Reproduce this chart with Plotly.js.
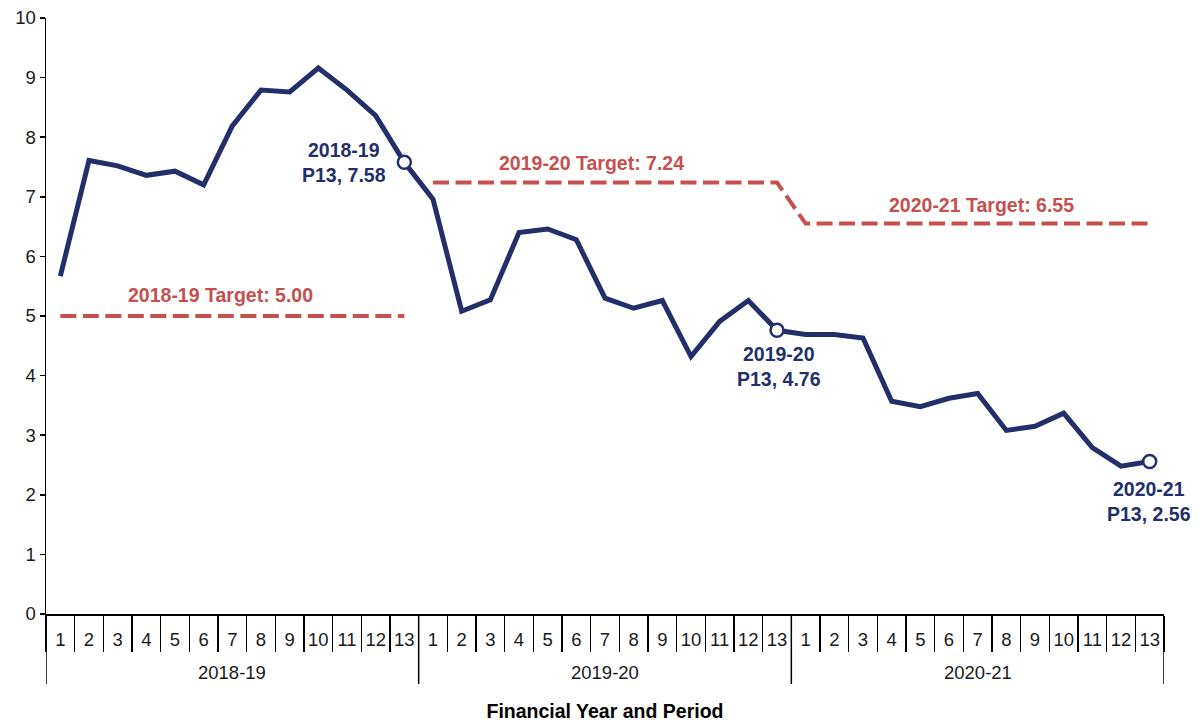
<!DOCTYPE html>
<html>
<head>
<meta charset="utf-8">
<script src="https://cdn.plot.ly/plotly-3.0.1.min.js"></script>
<style>html,body{margin:0;padding:0;background:#fff}#chart{width:1200px;height:724px}</style>
</head>
<body>
<div id="chart"></div>
<script>
// ---- data ----
const years = ['2018-19', '2019-20', '2020-21'];
const periods = ['1','2','3','4','5','6','7','8','9','10','11','12','13'];
const fy1819 = [5.67, 7.61, 7.52, 7.36, 7.43, 7.20, 8.19, 8.79, 8.76, 9.16, 8.79, 8.36, 7.58];
const fy1920 = [6.96, 5.08, 5.27, 6.40, 6.46, 6.28, 5.30, 5.13, 5.26, 4.32, 4.91, 5.26, 4.76];
const fy2021 = [4.69, 4.69, 4.63, 3.57, 3.48, 3.62, 3.70, 3.08, 3.15, 3.37, 2.79, 2.48, 2.56];
const targets = [5.00, 7.24, 6.55];
const yTicks = [0,1,2,3,4,5,6,7,8,9,10];
const xTitle = 'Financial Year and Period';

const NAVY = '#232f6b';
const RED = '#c5504e';
const FONT = 'Liberation Sans, Arial, sans-serif';

// unique category per (year, period); the axis shows only the period number
const series = [fy1819, fy1920, fy2021];
const cat = (yr, p) => yr + ' P' + p;
const xAll = [], yAll = [], tickText = [];
years.forEach((yr, i) => periods.forEach((p, j) => { xAll.push(cat(yr, p)); tickText.push(p); yAll.push(series[i][j]); }));
const nCat = xAll.length;

function targetCoords(yearIdxs) {
  const x = [], v = [];
  yearIdxs.forEach(i => periods.forEach(p => { x.push(cat(years[i], p)); v.push(targets[i]); }));
  return {x: x, y: v};
}
const t1 = targetCoords([0]);
const t2 = targetCoords([1, 2]);

const lastP = periods[periods.length - 1];
const endX = years.map(yr => cat(yr, lastP));
const endY = series.map(s => s[s.length - 1]);

const DASH = '16px,6.5px';
const traces = [
  {type: 'scatter', mode: 'lines', x: t1.x, y: t1.y, line: {color: RED, width: 4, dash: DASH}, hoverinfo: 'skip'},
  {type: 'scatter', mode: 'lines', x: t2.x, y: t2.y, line: {color: RED, width: 4, dash: DASH}, hoverinfo: 'skip'},
  {type: 'scatter', mode: 'lines', x: xAll, y: yAll, line: {color: NAVY, width: 5}},
  {type: 'scatter', mode: 'markers', x: endX, y: endY, marker: {symbol: 'circle', size: 13, color: '#ffffff', line: {color: NAVY, width: 2.5}}}
];

function px2paperX(px) { return (px - 46) / 1118; }
function yOf(py) { return (614.5 - py) / 59.65; }
function paperY(py) { return (614 - py) / 596; }
function ann(text, cx, cyData, color) {
  return {text: text, xref: 'paper', yref: 'y', x: px2paperX(cx), y: cyData, showarrow: false,
          xanchor: 'center', yanchor: 'middle', align: 'center',
          font: {family: FONT, size: 19.5, color: color, weight: 'bold'}};
}

// year group labels (under the period labels) and the year dividers
const yearAnns = years.map((yr, i) => ({
  text: yr, xref: 'x', yref: 'paper', x: i * periods.length + (periods.length - 1) / 2, y: paperY(672),
  showarrow: false, xanchor: 'center', yanchor: 'middle',
  font: {family: FONT, size: 18.5, color: '#1a1a1a'}
}));
const dividers = [];
for (let i = 0; i <= years.length; i++) {
  const xv = i * periods.length - 0.5;
  dividers.push({type: 'line', xref: 'x', yref: 'paper', x0: xv, x1: xv, y0: 0, y1: paperY(684),
                 line: {color: '#000', width: 1.5}});
}

const layout = {
  width: 1200, height: 724,
  margin: {l: 46, r: 36, t: 18, b: 110},
  paper_bgcolor: '#ffffff', plot_bgcolor: '#ffffff',
  showlegend: false,
  font: {family: FONT, size: 18.5, color: '#1a1a1a'},
  xaxis: {
    type: 'category',
    categoryorder: 'array', categoryarray: xAll,
    range: [-0.5, nCat - 0.5],
    tickmode: 'array', tickvals: xAll, ticktext: tickText,
    tickangle: 0,
    showline: true, linecolor: '#000', linewidth: 1.5,
    ticks: 'outside', tickson: 'boundaries', ticklen: 36, tickcolor: '#000', tickwidth: 1.5,
    ticklabelstandoff: 8,
    showgrid: false, zeroline: false,
    tickfont: {family: FONT, size: 18.5, color: '#1a1a1a'},
    title: {text: '<b>' + xTitle + '</b>', standoff: 55, font: {family: FONT, size: 19.5, color: '#000'}},
    automargin: false
  },
  yaxis: {
    range: [0, 10], tickvals: yTicks, showgrid: false, zeroline: false,
    showline: true, linecolor: '#000', linewidth: 1.5,
    ticks: 'outside', ticklen: 5, tickcolor: '#000', tickwidth: 1.5,
    tickfont: {family: FONT, size: 18.5, color: '#1a1a1a'},
    automargin: false
  },
  shapes: dividers,
  annotations: [
    ann('2018-19 Target: 5.00', 220, yOf(295), RED),
    ann('2019-20 Target: 7.24', 591, yOf(163), RED),
    ann('2020-21 Target: 6.55', 981, yOf(205), RED),
    ann('2018-19<br>P13, 7.58', 344, yOf(163), NAVY),
    ann('2019-20<br>P13, 4.76', 779, yOf(367), NAVY),
    ann('2020-21<br>P13, 2.56', 1149, yOf(502), NAVY)
  ].concat(yearAnns)
};

Plotly.newPlot('chart', traces, layout, {displayModeBar: false, staticPlot: true});
</script>
</body>
</html>
